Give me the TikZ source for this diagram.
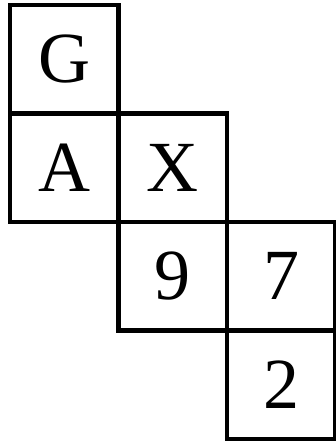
\documentclass[tikz,border=0pt]{standalone}
\usepackage{fontspec}
\setmainfont{Liberation Serif}
\usetikzlibrary{positioning}

\begin{document}
\begin{tikzpicture}[x=1pt,y=-1pt,
  cell/.style={draw,line width=4.5pt,minimum size=108.5pt,inner sep=0pt,
    font=\fontsize{72}{76}\selectfont}]
  \def\S{108.5}
  \def\x{64}
  \def\y{59}

  \useasboundingbox (0,0) rectangle (336,447);

  \foreach \name/\c/\r/\txt in {G/0/0/G, A/0/1/A, X/1/1/X,
    nine/1/2/9, seven/2/2/7, two/2/3/2} {
  \node[cell] (\name) at (\x+\c*\S,\y+\r*\S) {\txt};
  }

\end{tikzpicture}
\end{document}
